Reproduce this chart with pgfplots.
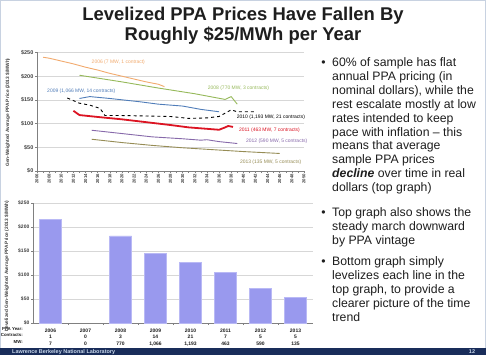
\documentclass[border=0pt]{standalone}
\usepackage{fontspec}
\setmainfont{Liberation Sans}
\usepackage{pgfplots}
\pgfplotsset{compat=1.18}
\definecolor{c06}{RGB}{242,170,110}
\definecolor{c08}{RGB}{150,185,90}
\definecolor{c09}{RGB}{80,125,185}
\definecolor{c11}{RGB}{220,20,35}
\definecolor{c12}{RGB}{135,105,170}
\definecolor{c13}{RGB}{150,140,85}
\definecolor{barc}{RGB}{153,153,238}
\definecolor{gridc}{RGB}{215,215,215}
\definecolor{footc}{RGB}{25,45,90}
\definecolor{txt}{RGB}{30,30,30}
\newcommand{\tl}[2]{\node[anchor=base west, inner sep=0pt, text=txt, font=\fontsize{12.3}{14}\selectfont] at (332,{355-#1}) {#2};}
\newcommand{\bl}[1]{\node[anchor=base, inner sep=0pt, text=txt, font=\fontsize{12.3}{14}\selectfont] at (323.5,{355-#1}) {\textbullet};}
\begin{document}
\begin{tikzpicture}[x=1bp,y=1bp]
\path[use as bounding box, fill=white] (0,0) rectangle (486,355);
\draw[color={rgb,255:red,200;green,210;blue,225}, line width=1.2bp] (0.6,0.6) rectangle (485.4,354.4);
% title
\node[anchor=base, inner sep=0pt, text=txt, font=\fontsize{18.5}{19}\selectfont\bfseries] at (243,335) {Levelized PPA Prices Have Fallen By};
\node[anchor=base, inner sep=0pt, text=txt, font=\fontsize{18.5}{19}\selectfont\bfseries] at (243,314.3) {Roughly \$25/MWh per Year};

% ---------- top chart ----------
\begin{axis}[at={(37bp,184bp)}, anchor=south west, scale only axis,
  width=267bp, height=118.5bp,
  xmin=2006, xmax=2050, ymin=0, ymax=250,
  xtick={2006,2008,...,2050}, minor x tick num=1,
  ytick={0,50,...,250}, yticklabels={\$0,\$50,\$100,\$150,\$200,\$250},
  ymajorgrids, grid style={gridc, line width=0.7bp},
  axis x line*=bottom, axis y line*=left,
  axis line style={gray, line width=0.6bp, -},
  tick style={gray, line width=0.5bp}, tick align=outside,
  major tick length=2bp, minor tick length=1.5bp,
  xticklabel style={rotate=90, anchor=east, font=\fontsize{4.3}{5}\selectfont\bfseries, text=darkgray, inner sep=1bp},
  yticklabel style={font=\fontsize{5.5}{6}\selectfont\bfseries, text=darkgray, inner sep=1.5bp},
  /pgf/number format/1000 sep={}, /pgf/number format/assume math mode=true,
  ylabel={Gen-Weighted Average PPA Price (2013 \$/MWh)},
  ylabel style={at={(axis description cs:-0.109,0.494)}, anchor=center, font=\fontsize{4.8}{5}\selectfont\bfseries, text=darkgray},
  clip=false]
\addplot[c06, line width=0.9bp] coordinates {(2007,240)(2008,238)(2010,232)(2012,226)(2014,219)(2016,213)(2018,206)(2020,200)(2022,194)(2024,188)(2026,183)(2027,178)};
\addplot[c08, line width=0.9bp] coordinates {(2013,202)(2020,188)(2026,175)(2032,163)(2037,151)(2038,157)(2039,141)};
\addplot[c09, line width=0.9bp] coordinates {(2013,153)(2014.7,157)(2018,153)(2023,146)(2026,141)(2030,137)(2033,130)(2036,125)};
\addplot[black, line width=0.9bp, dashed] coordinates {(2011,154)(2013,143)(2014.7,139)(2016.4,132)(2017.2,117)(2020,117)(2024,116)(2028,115)(2031,111)(2034,112)(2036,115)(2038,129)(2039,125)(2042,125)};
\addplot[c11, line width=1.8bp] coordinates {(2012,127)(2013,118)(2016,114)(2020,109)(2024,103)(2028,97)(2031,92)(2036,87)(2037,92)(2037.5,95)(2038.3,93)};
\addplot[c12, line width=0.9bp] coordinates {(2015,86)(2020,79)(2025,72)(2030,68)(2033,65)(2034,66)(2036,62)(2039,58)};
\addplot[c13, line width=0.9bp] coordinates {(2015,67)(2020,60)(2025,54)(2030,49)(2035,45)(2040,41)(2046,37)};
\node[font=\fontsize{5}{5}\selectfont, text=c06] at (axis cs:2019.4,230) {2006 (7 MW, 1 contract)};
\node[font=\fontsize{5}{5}\selectfont, text=c09] at (axis cs:2013.3,169) {2009 (1,066 MW, 14 contracts)};
\node[font=\fontsize{5}{5}\selectfont, text=c08] at (axis cs:2039.2,175) {2008 (770 MW, 3 contracts)};
\node[font=\fontsize{5}{5}\selectfont, text=black, anchor=west, inner sep=0pt] at (axis cs:2038.9,114) {2010 (1,193 MW, 21 contracts)};
\node[font=\fontsize{5}{5}\selectfont, text=c11] at (axis cs:2044.3,85) {2011 (463 MW, 7 contracts)};
\node[font=\fontsize{5}{5}\selectfont, text=c12] at (axis cs:2045.5,62) {2012 (590 MW, 5 contracts)};
\node[font=\fontsize{5}{5}\selectfont, text=c13] at (axis cs:2044.5,19) {2013 (135 MW, 5 contracts)};
\end{axis}

% ---------- bottom chart ----------
\begin{axis}[at={(33bp,32bp)}, anchor=south west, scale only axis,
  width=280bp, height=119.7bp,
  xmin=-0.5, xmax=7.5, ymin=0, ymax=250,
  xtick={0,...,7}, minor x tick num=1,
  xticklabels={{2006\\1\\7},{2007\\0\\0},{2008\\3\\770},{2009\\14\\1,066},{2010\\21\\1,193},{2011\\7\\463},{2012\\5\\590},{2013\\5\\135}},
  ytick={0,50,...,250}, yticklabels={\$0,\$50,\$100,\$150,\$200,\$250},
  ymajorgrids, grid style={gridc, line width=0.7bp},
  axis x line*=bottom, axis y line*=left,
  axis line style={gray, line width=0.6bp, -},
  tick style={gray, line width=0.5bp}, tick align=outside,
  major tick length=2bp, minor tick length=2bp,
  major x tick style={draw=none},
  xticklabel style={align=center, anchor=north, inner sep=0pt, yshift=-3.5bp, font=\fontsize{5}{6.5}\selectfont\bfseries, text=txt},
  yticklabel style={font=\fontsize{5}{6}\selectfont\bfseries, text=darkgray, inner sep=1.5bp},
  ylabel={Levelized Gen-Weighted Average PPA Price (2013 \$/MWh)},
  ylabel style={at={(axis description cs:-0.093,0.476)}, anchor=center, font=\fontsize{4.8}{5}\selectfont\bfseries, text=darkgray},
  ybar, bar width=22bp, clip=false]
\addplot[fill=barc, draw={rgb,255:red,185;green,185;blue,245}, line width=0.5bp] coordinates {(0,216)(2,182)(3,146)(4,127)(5,106)(6,73)(7,54)};
\end{axis}
\node[anchor=base east, inner sep=0pt, font=\fontsize{4.4}{6}\selectfont\bfseries, text=txt] at (23,24.9) {PPA Year:};
\node[anchor=base east, inner sep=0pt, font=\fontsize{4.4}{6}\selectfont\bfseries, text=txt] at (23,18.4) {Contracts:};
\node[anchor=base east, inner sep=0pt, font=\fontsize{4.4}{6}\selectfont\bfseries, text=txt] at (23,11.9) {MW:};

% ---------- right text ----------
\bl{66.5}
\tl{66.5}{60\% of sample has flat}
\tl{80.4}{annual PPA pricing (in}
\tl{94.3}{nominal dollars), while the}
\tl{108.2}{rest escalate mostly at low}
\tl{122.1}{rates intended to keep}
\tl{136.0}{pace with inflation – this}
\tl{149.9}{means that average}
\tl{163.8}{sample PPA prices}
\tl{177.7}{\textbf{\textit{decline}} over time in real}
\tl{191.6}{dollars (top graph)}
\bl{216.5}
\tl{216.5}{Top graph also shows the}
\tl{230.4}{steady march downward}
\tl{244.3}{by PPA vintage}
\bl{265.5}
\tl{265.5}{Bottom graph simply}
\tl{279.5}{levelizes each line in the}
\tl{293.5}{top graph, to provide a}
\tl{307.5}{clearer picture of the time}
\tl{321.5}{trend}

% footer
\fill[footc] (0,0) rectangle (486,7.5);
\node[anchor=base west, inner sep=0pt, text={rgb,255:red,200;green,215;blue,235}, font=\fontsize{5.5}{6}\selectfont\bfseries] at (12,1.8) {Lawrence Berkeley National Laboratory};
\node[anchor=base, inner sep=0pt, text={rgb,255:red,200;green,215;blue,235}, font=\fontsize{5.5}{6}\selectfont\bfseries] at (472,1.8) {12};
\end{tikzpicture}
\end{document}
